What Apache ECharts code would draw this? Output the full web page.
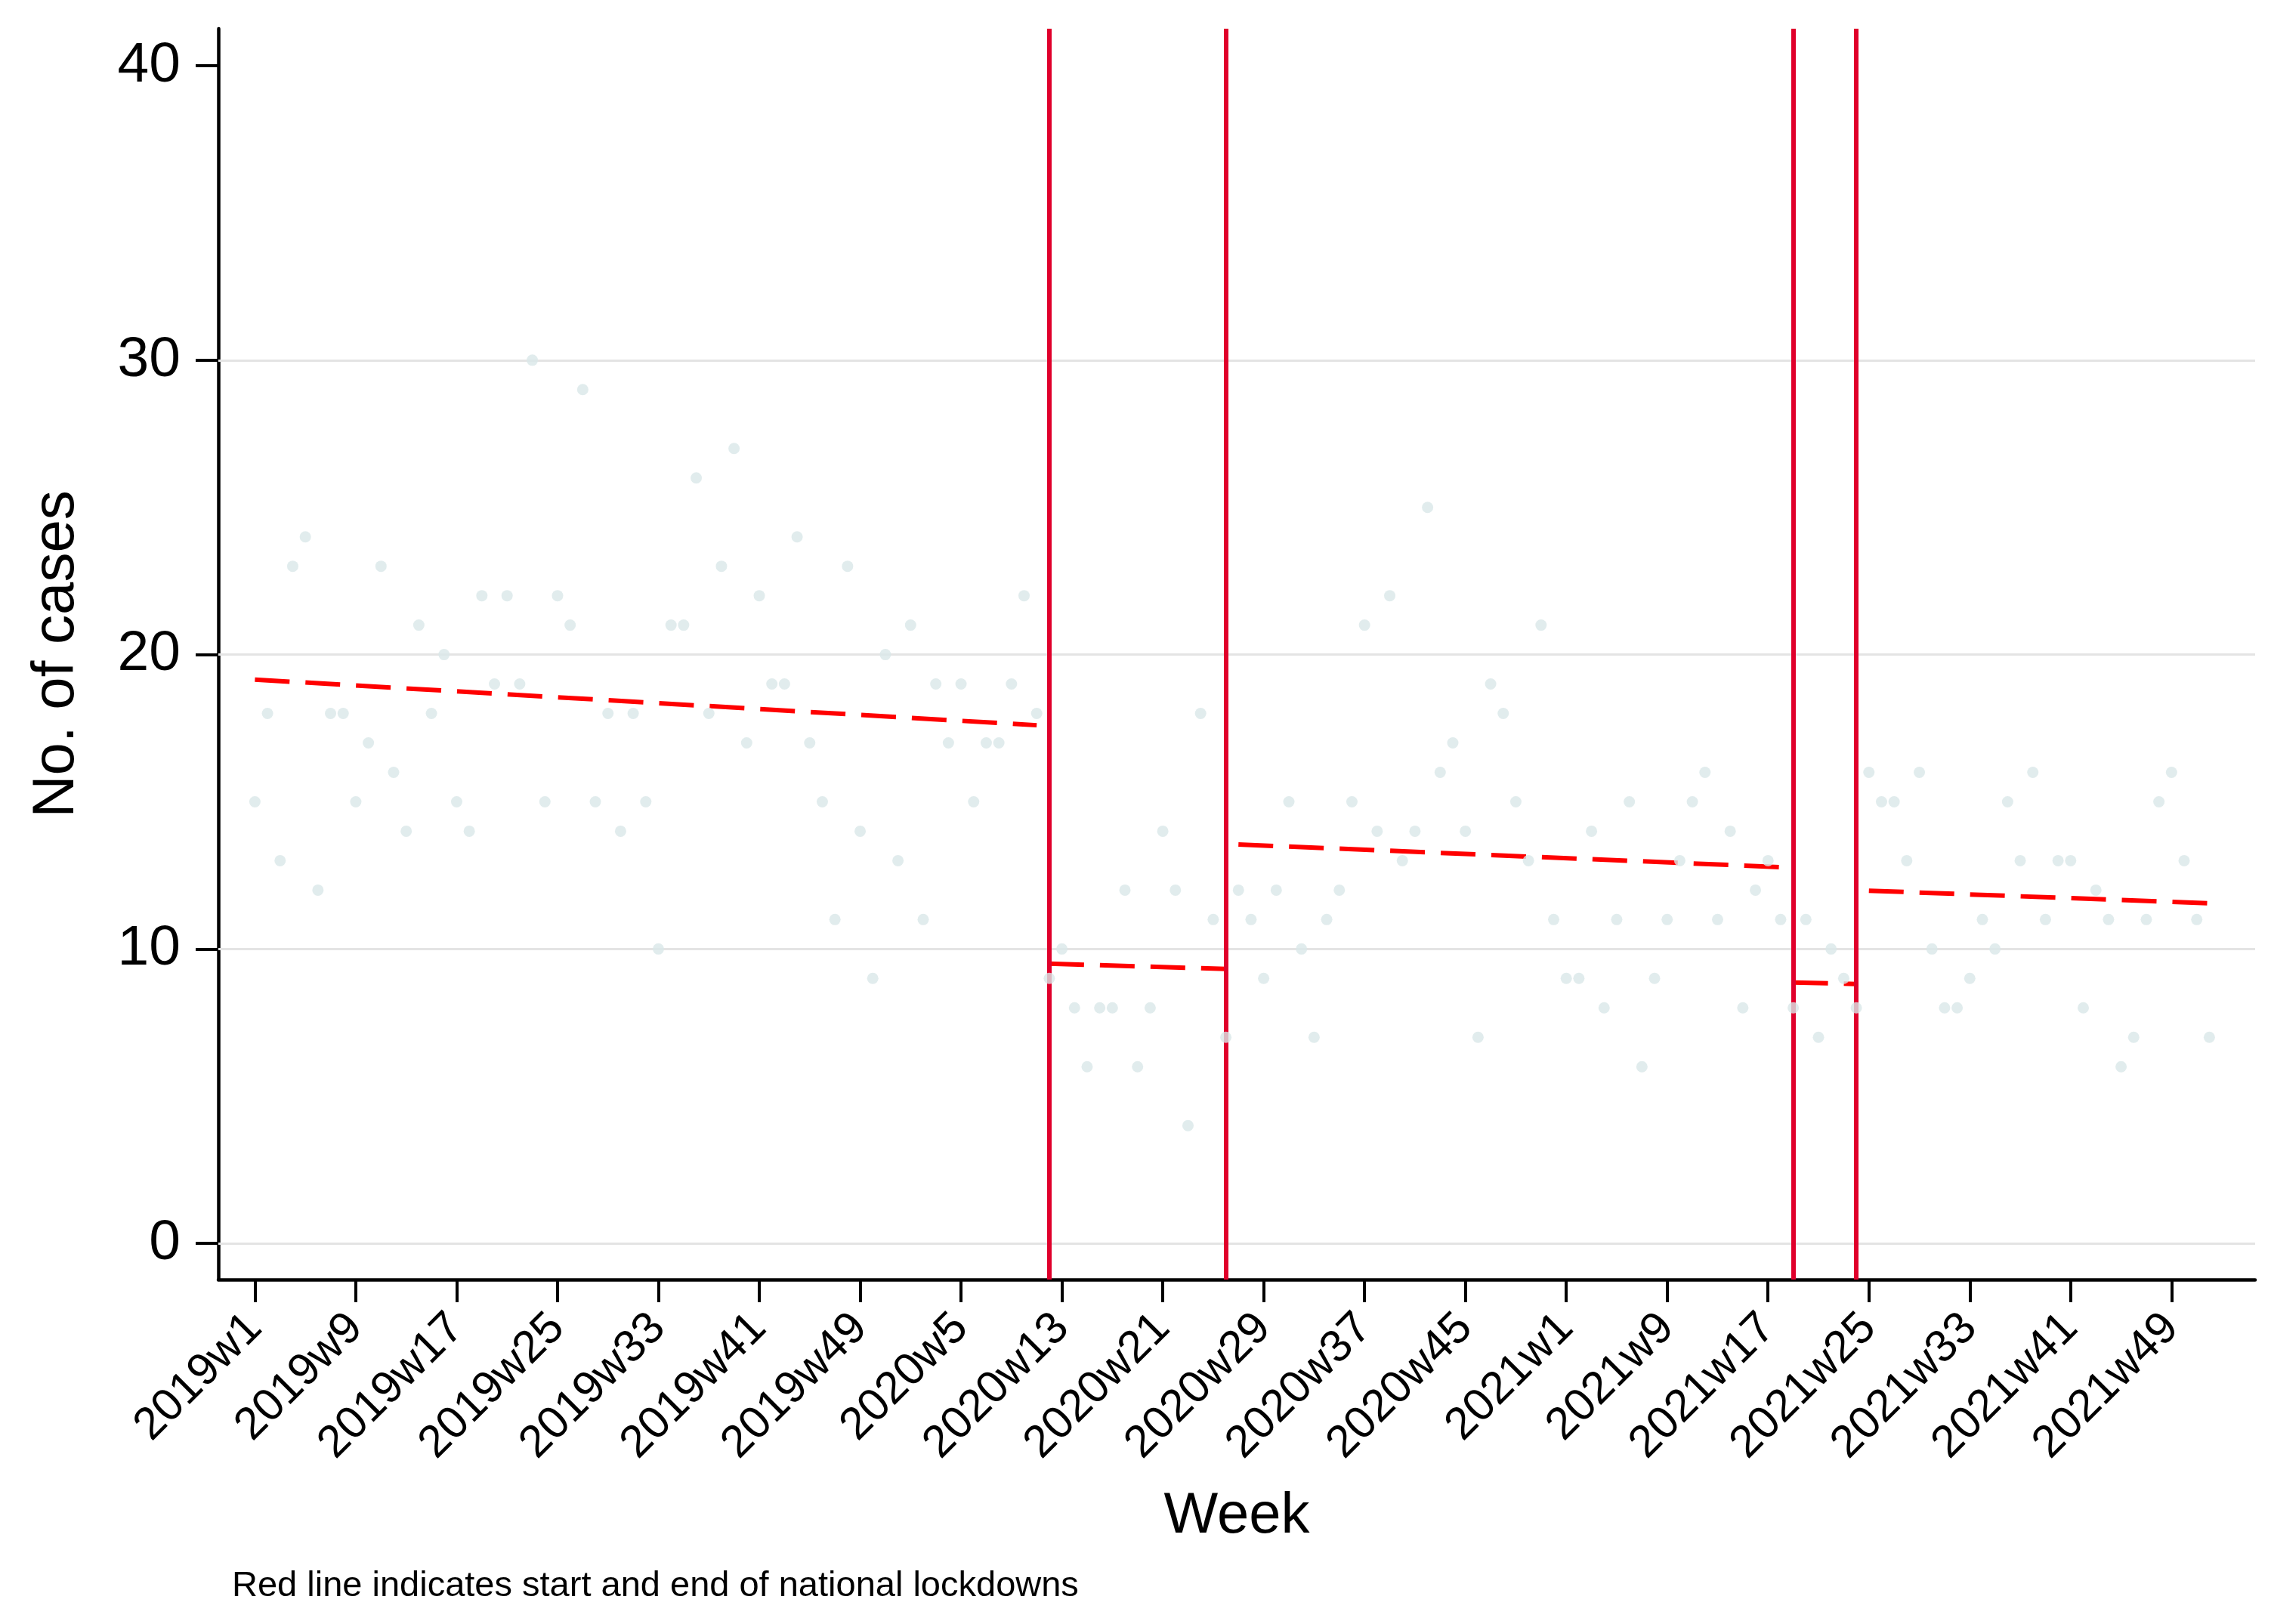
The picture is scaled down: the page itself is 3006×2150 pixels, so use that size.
<!DOCTYPE html>
<html>
<head>
<meta charset="utf-8">
<script src="https://cdn.jsdelivr.net/npm/echarts@6/dist/echarts.min.js"></script>
<style>
  html, body { margin: 0; padding: 0; background: #ffffff; }
  #chart { width: 3006px; height: 2150px; }
</style>
</head>
<body>
<div id="chart"></div>
<script>
// Weekly case counts, 2019w1 .. 2021w52 (52 weeks per year, index 0..155)
const cases = [
  15, 18, 13, 23, 24, 12, 18, 18, 15, 17,
  23, 16, 14, 21, 18, 20, 15, 14, 22, 19,
  22, 19, 30, 15, 22, 21, 29, 15, 18, 14,
  18, 15, 10, 21, 21, 26, 18, 23, 27, 17,
  22, 19, 19, 24, 17, 15, 11, 23, 14, 9,
  20, 13, 21, 11, 19, 17, 19, 15, 17, 17,
  19, 22, 18, 9, 10, 8, 6, 8, 8, 12,
  6, 8, 14, 12, 4, 18, 11, 7, 12, 11,
  9, 12, 15, 10, 7, 11, 12, 15, 21, 14,
  22, 13, 14, 25, 16, 17, 14, 7, 19, 18,
  15, 13, 21, 11, 9, 9, 14, 8, 11, 15,
  6, 9, 11, 13, 15, 16, 11, 14, 8, 12,
  13, 11, 8, 11, 7, 10, 9, 8, 16, 15,
  15, 13, 16, 10, 8, 8, 9, 11, 10, 15,
  13, 16, 11, 13, 13, 8, 12, 11, 6, 7,
  11, 15, 16, 13, 11, 7
];

// Week index of each tick and its label
const xTickIndex = [0, 8, 16, 24, 32, 40, 48, 56, 64, 72, 80, 88, 96, 104, 112, 120, 128, 136, 144, 152];
const xTickLabels = ['2019w1', '2019w9', '2019w17', '2019w25', '2019w33', '2019w41', '2019w49',
  '2020w5', '2020w13', '2020w21', '2020w29', '2020w37', '2020w45',
  '2021w1', '2021w9', '2021w17', '2021w25', '2021w33', '2021w41', '2021w49'];
const yTicks = [0, 10, 20, 30, 40];
const yGrid = [0, 10, 20, 30];

// Lockdown start / end weeks (index)
const lockdownWeeks = [63, 77, 122, 127];

// Fitted trend per period: [startWeek, startValue, endWeek, endValue]
const trendSegments = [
  [0, 19.15, 62, 17.6],
  [63, 9.5, 77, 9.32],
  [78, 13.55, 121, 12.78],
  [122, 8.86, 127, 8.81],
  [128, 11.98, 155, 11.55]
];

const FONT = "'Liberation Sans', Arial, sans-serif";
const chart = echarts.init(document.getElementById('chart'));

const series = [];
series.push({
  type: 'line', data: [], z: 1, silent: true,
  markLine: {
    silent: true, symbol: ['none', 'none'], label: { show: false },
    lineStyle: { color: '#e4e4e4', width: 3, type: 'solid' },
    data: yGrid.map(v => ({ yAxis: v }))
  }
});
trendSegments.forEach(s => {
  series.push({
    type: 'line', z: 3, silent: true, symbol: 'none',
    data: [[s[0], s[1]], [s[2], s[3]]],
    lineStyle: { color: '#ff0000', width: 6, type: [46, 21] }
  });
});
series.push({
  type: 'line', data: [], z: 4, silent: true,
  markLine: {
    silent: true, symbol: ['none', 'none'], label: { show: false },
    lineStyle: { color: '#e0002b', width: 6, type: 'solid' },
    data: lockdownWeeks.map(w => ({ xAxis: w }))
  }
});
series.push({
  type: 'scatter', z: 10, silent: true,
  symbolSize: 15,
  itemStyle: { color: '#d9e7e9' },
  data: cases.map((v, i) => [i, v])
});

chart.setOption({
  animation: false,
  backgroundColor: '#ffffff',
  title: {
    text: 'Red line indicates start and end of national lockdowns',
    left: 302, top: 2072,
    textStyle: { fontFamily: FONT, fontSize: 47, fontWeight: 'normal', color: '#000' }
  },
  grid: { left: 289, top: 38, width: 2696, height: 1656, containLabel: false },
  xAxis: {
    type: 'value', min: -2.9, max: 158.63,
    axisLine: { show: true, onZero: false, lineStyle: { color: '#000', width: 4.5 } },
    axisTick: { show: true, customValues: xTickIndex, length: 30, lineStyle: { color: '#000', width: 4 } },
    axisLabel: {
      customValues: xTickIndex, rotate: 45, margin: 55,
      fontFamily: FONT, fontSize: 60, color: '#000',
      formatter: v => { const k = xTickIndex.indexOf(Math.round(v)); return k >= 0 ? xTickLabels[k] : ''; }
    },
    splitLine: { show: false },
    name: 'Week', nameLocation: 'middle', nameGap: 276,
    nameTextStyle: { fontFamily: FONT, fontSize: 76, color: '#000' }
  },
  yAxis: {
    type: 'value', min: -1.23, max: 41.26,
    axisLine: { show: true, onZero: false, lineStyle: { color: '#000', width: 4.5 } },
    axisTick: { show: true, customValues: yTicks, length: 30, lineStyle: { color: '#000', width: 4 } },
    axisLabel: { customValues: yTicks, margin: 50, fontFamily: FONT, fontSize: 75, color: '#000' },
    splitLine: { show: false },
    name: 'No. of cases', nameLocation: 'middle', nameGap: 175,
    nameTextStyle: { fontFamily: FONT, fontSize: 78, color: '#000' }
  },
  series: series
});
</script>
</body>
</html>
